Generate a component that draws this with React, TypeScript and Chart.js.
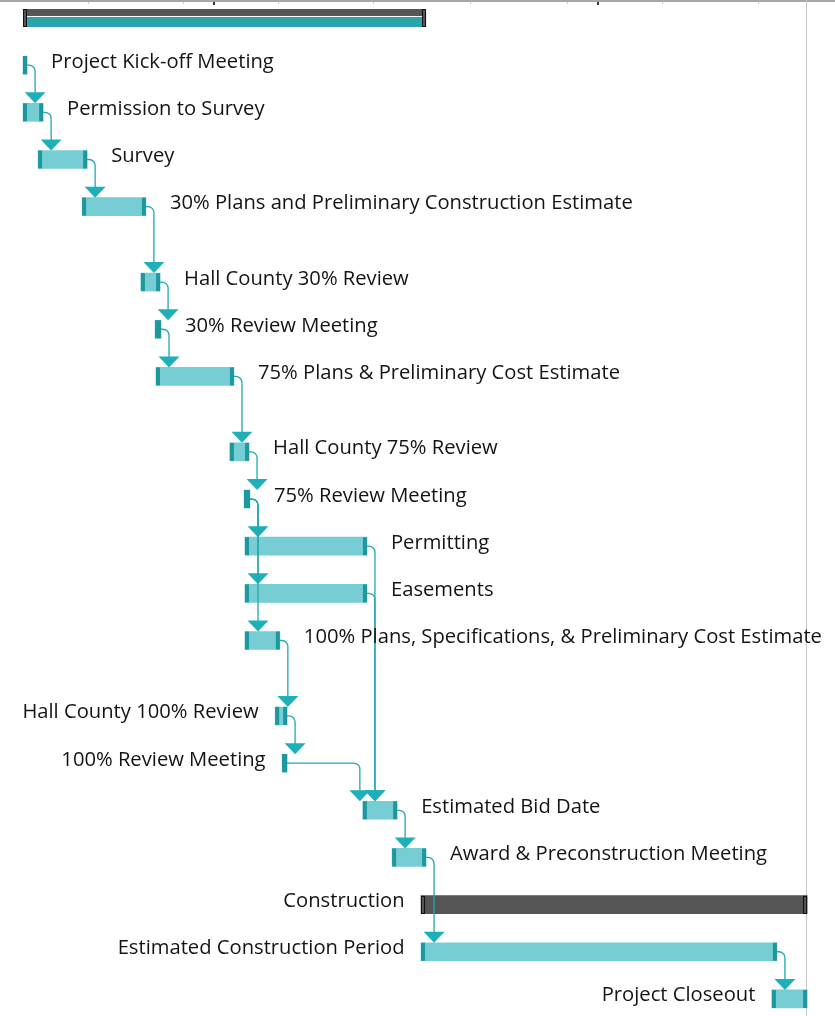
import React, { useEffect, useRef } from "react";
import { Chart, registerables } from "chart.js";

Chart.register(...registerables);

// ---------- data (days from project start) ----------
const taskNames = [
  "Project",
  "Project Kick-off Meeting",
  "Permission to Survey",
  "Survey",
  "30% Plans and Preliminary Construction Estimate",
  "Hall County 30% Review",
  "30% Review Meeting",
  "75% Plans & Preliminary Cost Estimate",
  "Hall County 75% Review",
  "75% Review Meeting",
  "Permitting",
  "Easements",
  "100% Plans, Specifications, & Preliminary Cost Estimate",
  "Hall County 100% Review",
  "100% Review Meeting",
  "Estimated Bid Date",
  "Award & Preconstruction Meeting",
  "Construction",
  "Estimated Construction Period",
  "Project Closeout",
];
const taskKinds = [
  "project", "task", "task", "task", "task", "task", "task", "task", "task", "task",
  "task", "task", "task", "task", "task", "task", "task", "summary", "task", "task",
];
const startDays = [0, 0, 0, 4.8, 18.8, 37.5, 42.0, 42.3, 65.8, 70.3, 70.6, 70.6, 70.6, 80.2, 82.4, 108.1, 117.4, 126.6, 126.6, 238.2];
const endDays = [128.2, 1.3, 6.4, 20.4, 39.1, 43.6, 43.9, 67.1, 71.9, 72.2, 109.4, 109.4, 81.7, 84.0, 84.0, 119.0, 128.2, 249.4, 239.8, 249.4];
// row height in row units (rows with long, wrapped names are taller)
const rowSpans = [1, 1, 1, 1, 1.6, 1, 1, 1.6, 1, 1, 1, 1, 1.6, 1, 1, 1, 1, 1, 1, 1];
const labelSides = [
  "none", "right", "right", "right", "right", "right", "right", "right", "right", "right",
  "right", "right", "right", "left", "left", "right", "right", "left", "left", "left",
];
const linkFrom = [1, 2, 3, 4, 5, 6, 7, 8, 9, 9, 9, 10, 11, 12, 13, 14, 15, 16, 18];
const linkTo = [2, 3, 4, 5, 6, 7, 8, 9, 10, 11, 12, 15, 15, 13, 14, 15, 16, 18, 19];
const minorTickDays = [20.7, 51.0, 81.1, 111.3, 142.2, 173.0, 203.3, 233.8];
const majorTickDays = [60.4, 182.6];

// ---------- view ----------
const W = 835;
const H = 1016;
const DAY_MIN = -7.316;
const DAY_MAX = 258.27;
const ROW_MIN = -0.3817;
const ROW_MAX = 21.162;
const BAR_H = 18;

const TASK_FILL = "#76CDD4";
const CAP = "#1D989F";
const LINK = "#22A9B2";
const HEAD = "#1EB0B9";
const SUM_DARK = "#555555";
const SUM_TEAL = "#2AA5AD";
const TEXT = "#141414";
const FONT = '20.2px "Open Sans", "Noto Sans", sans-serif';

const rowPos: number[] = [];
{
  let acc = 0;
  for (let i = 0; i < rowSpans.length; i++) {
    rowPos.push(acc);
    acc += rowSpans[i];
  }
}
const taskRows = taskKinds.map((k, i) => (k === "task" ? i : -1)).filter((i) => i >= 0);
const summaryRows = taskKinds.map((k, i) => (k !== "task" ? i : -1)).filter((i) => i >= 0);

const ganttPlugin = {
  id: "gantt",
  beforeDatasetsDraw(chart: any) {
    const { ctx, chartArea } = chart;
    const xs = chart.scales.x;
    ctx.save();
    ctx.fillStyle = "#A6A6A6";
    ctx.fillRect(chartArea.left, 0, chartArea.right - chartArea.left, 2);
    ctx.fillStyle = "#C8C8C8";
    minorTickDays.forEach((d) => {
      const p = Math.round(xs.getPixelForValue(d));
      ctx.fillRect(p, 2, 1, 2);
    });
    ctx.fillStyle = "#333333";
    majorTickDays.forEach((d) => {
      const p = Math.round(xs.getPixelForValue(d));
      ctx.fillRect(p, 2, 2, 3);
    });
    const finish = Math.max(...endDays);
    const fx = Math.round(xs.getPixelForValue(finish)) - 0.5;
    ctx.strokeStyle = "#C8C8C8";
    ctx.lineWidth = 1;
    ctx.beginPath();
    ctx.moveTo(fx, 0);
    ctx.lineTo(fx, chart.height);
    ctx.stroke();
    ctx.restore();
  },
  afterDatasetsDraw(chart: any) {
    const { ctx } = chart;
    const xs = chart.scales.x;
    const ys = chart.scales.y;
    const px = (d: number) => xs.getPixelForValue(d);
    const py = (r: number) => ys.getPixelForValue(r);
    ctx.save();

    // summaries
    summaryRows.forEach((i) => {
      const sx = px(startDays[i]);
      const ex = px(endDays[i]);
      const top = py(rowPos[i]) - BAR_H / 2;
      if (taskKinds[i] === "project") {
        ctx.fillStyle = SUM_DARK;
        ctx.fillRect(sx, top, ex - sx, 7);
        ctx.fillStyle = SUM_TEAL;
        ctx.fillRect(sx, top + 8, ex - sx, BAR_H - 8);
      }
      [sx, ex - 4].forEach((cx) => {
        ctx.fillStyle = SUM_DARK;
        ctx.fillRect(cx, top, 4, BAR_H);
        ctx.strokeStyle = "#111111";
        ctx.lineWidth = 1;
        ctx.strokeRect(Math.round(cx) + 0.5, Math.round(top) + 0.5, 3, BAR_H - 1);
      });
    });

    // task end caps
    taskRows.forEach((i) => {
      const sx = px(startDays[i]);
      const ex = px(endDays[i]);
      const top = py(rowPos[i]) - BAR_H / 2;
      const cw = Math.min(4, ex - sx);
      ctx.fillStyle = CAP;
      ctx.fillRect(sx, top, cw, BAR_H);
      ctx.fillRect(ex - cw, top, cw, BAR_H);
    });

    // dependency links
    const r = 6;
    linkFrom.forEach((p, k) => {
      const s = linkTo[k];
      const x1 = px(endDays[p]);
      const y1 = py(rowPos[p]);
      const ax = Math.max(x1 + 8, px(startDays[s]) - 3);
      const top = py(rowPos[s]) - BAR_H / 2;
      const headH = 11;
      const headW = 10.5;
      ctx.strokeStyle = LINK;
      ctx.lineWidth = 1.3;
      ctx.beginPath();
      ctx.moveTo(x1, y1);
      ctx.arcTo(ax, y1, ax, y1 + r, r);
      ctx.lineTo(ax, top - headH + 1);
      ctx.stroke();
      ctx.fillStyle = HEAD;
      ctx.beginPath();
      ctx.moveTo(ax - headW, top - headH);
      ctx.lineTo(ax + headW, top - headH);
      ctx.lineTo(ax, top);
      ctx.closePath();
      ctx.fill();
    });

    // labels
    ctx.font = FONT;
    ctx.fillStyle = TEXT;
    ctx.textBaseline = "alphabetic";
    taskNames.forEach((name, i) => {
      const side = labelSides[i];
      if (side === "none") return;
      const cy = py(rowPos[i]) + 2.5;
      if (side === "right") {
        ctx.textAlign = "left";
        ctx.fillText(name, px(endDays[i]) + 24, cy);
      } else {
        ctx.textAlign = "right";
        ctx.fillText(name, px(startDays[i]) - 16.5, cy);
      }
    });
    ctx.restore();
  },
};

export default function App() {
  const ref = useRef<HTMLCanvasElement>(null);
  useEffect(() => {
    document.body.style.margin = "0";
    document.body.style.overflow = "hidden";
    const canvas = ref.current;
    if (!canvas) return;
    const chart = new Chart(canvas, {
      type: "bar",
      data: {
        datasets: [
          {
            label: "Tasks",
            data: taskRows.map((i) => ({ x: [startDays[i], endDays[i]], y: rowPos[i] })) as any,
            backgroundColor: TASK_FILL,
            borderWidth: 0,
            barThickness: BAR_H,
            grouped: false,
          },
          {
            label: "Summary",
            data: summaryRows.map((i) => ({ x: [startDays[i], endDays[i]], y: rowPos[i] })) as any,
            backgroundColor: (c: any) =>
              taskKinds[summaryRows[c.dataIndex]] === "project" ? "rgba(0,0,0,0)" : SUM_DARK,
            borderWidth: 0,
            barThickness: BAR_H,
            grouped: false,
          },
        ],
      },
      options: {
        indexAxis: "y",
        responsive: false,
        maintainAspectRatio: false,
        animation: false,
        events: [],
        layout: { padding: 0 },
        plugins: {
          legend: { display: false },
          tooltip: { enabled: false },
          title: { display: false },
        },
        scales: {
          x: { type: "linear", min: DAY_MIN, max: DAY_MAX, display: false, offset: false },
          y: { type: "linear", min: ROW_MIN, max: ROW_MAX, reverse: true, display: false, offset: false },
        },
      },
      plugins: [ganttPlugin],
    } as any);
    return () => chart.destroy();
  }, []);
  return <canvas ref={ref} width={W} height={H} style={{ display: "block" }} />;
}
